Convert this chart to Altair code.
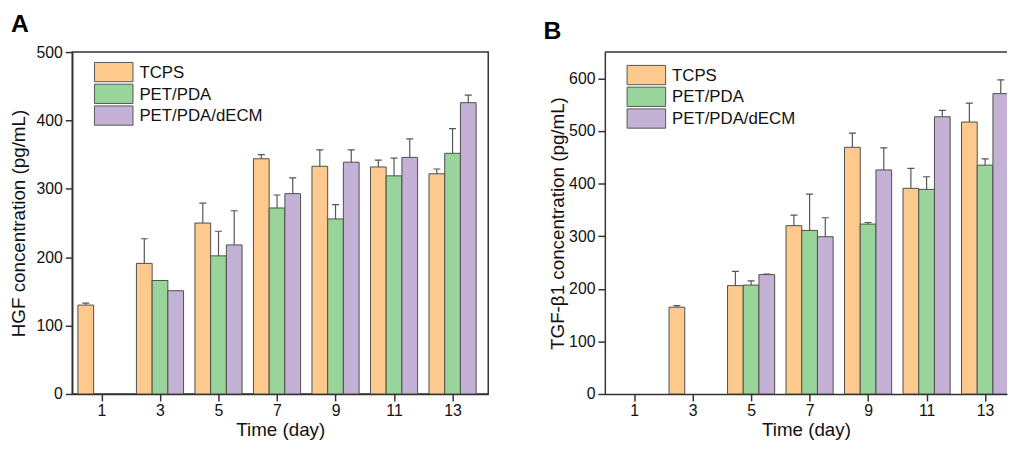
import altair as alt
import pandas as pd

days = [1, 3, 5, 7, 9, 11, 13]
series = ["TCPS", "PET/PDA", "PET/PDA/dECM"]
colors = ["#FDC98D", "#99D59A", "#C3B1D6"]

# Panel A: HGF (pg/mL)
hgf_tcps = [130, 191, 250, 344, 333, 332, 322]
hgf_tcps_err = [3, 36, 29, 6, 24, 10, 7]
hgf_pda = [None, 166, 202, 272, 256, 319, 352]
hgf_pda_err = [None, 0, 36, 19, 21, 26, 36]
hgf_decm = [None, 151, 218, 293, 339, 346, 426]
hgf_decm_err = [None, 0, 50, 23, 18, 27, 11]

# Panel B: TGF-beta1 (pg/mL)
tgf_tcps = [None, 165, 206, 320, 469, 391, 517]
tgf_tcps_err = [None, 3, 27, 20, 27, 38, 36]
tgf_pda = [None, None, 207, 311, 323, 389, 435]
tgf_pda_err = [None, None, 8, 69, 3, 24, 12]
tgf_decm = [None, None, 227, 299, 426, 527, 571]
tgf_decm_err = [None, None, 1, 36, 42, 12, 26]

hgf_ticks = [0, 100, 200, 300, 400, 500]
tgf_ticks = [0, 100, 200, 300, 400, 500, 600]

BW = 0.537   # bar width in days
CAP = 0.12   # half cap width in days
FONT = "Liberation Sans"


def to_long(vals_list, errs_list):
    rows = []
    for k, (vals, errs) in enumerate(zip(vals_list, errs_list)):
        for d, v, e in zip(days, vals, errs):
            if v is None:
                continue
            rows.append({"day": d, "series": series[k], "k": k,
                         "value": v, "err": e if e else 0})
    return pd.DataFrame(rows)


def panel(df, ymax, yticks, ytitle, label, width, xmax, framed, legend_y, ytp):
    base = alt.Chart(df).transform_calculate(
        xc=f"datum.day + (datum.k - 1) * {BW}",
    ).transform_calculate(
        x0=f"datum.xc - {BW / 2}",
        x1=f"datum.xc + {BW / 2}",
        c0=f"datum.xc - {CAP}",
        c1=f"datum.xc + {CAP}",
        top="datum.value + datum.err",
        base0="0",
    )
    xscale = alt.Scale(domain=[0, xmax], nice=False, zero=False)
    yscale = alt.Scale(domain=[0, ymax], nice=False)
    xaxis = alt.Axis(values=days, title="Time (day)", grid=False,
                     labelPadding=2, titlePadding=2, format="d")
    yaxis = alt.Axis(values=yticks, title=ytitle, grid=False,
                     labelPadding=3, titlePadding=ytp)
    bars = base.mark_bar(stroke="#4d4d4d", strokeWidth=1, clip=True).encode(
        x=alt.X("x0:Q", scale=xscale, axis=xaxis),
        x2="x1:Q",
        y=alt.Y("value:Q", scale=yscale, axis=yaxis),
        y2="base0:Q",
        color=alt.Color(
            "series:N",
            scale=alt.Scale(domain=series, range=colors),
            legend=alt.Legend(
                title=None, orient="none", legendX=22, legendY=legend_y,
                symbolType="M-1,-1H1V0H-1Z", symbolSize=1521,
                symbolStrokeColor="#555555", symbolStrokeWidth=1,
                symbolOpacity=1,
                labelFont=FONT, labelFontSize=17, labelColor="#111111",
                labelBaseline="bottom",
                labelOffset=6, rowPadding=-2, padding=0,
            ),
        ),
    )
    errs = base.transform_filter("datum.err > 0.5").mark_rule(
        color="#555555", strokeWidth=1.2, clip=True
    ).encode(x="xc:Q", y="value:Q", y2="top:Q")
    caps = base.transform_filter("datum.err > 0.5").mark_rule(
        color="#555555", strokeWidth=1.2, clip=True
    ).encode(x="c0:Q", x2="c1:Q", y="top:Q")
    layers = [bars, errs, caps]
    if framed:
        view = alt.ViewBackground(stroke="#333333", strokeWidth=1.5)
    else:
        view = alt.ViewBackground(stroke="transparent")
        top_line = alt.Chart(pd.DataFrame({"v": [ymax]})).mark_rule(
            color="#333333", strokeWidth=1.5
        ).encode(y=alt.Y("v:Q", scale=yscale))
        layers.append(top_line)
    return alt.layer(*layers).properties(
        width=width, height=346, view=view,
        title=alt.TitleParams(text=label, anchor="start", frame="group",
                              font=FONT, fontSize=25, fontWeight="bold",
                              color="black", dx=-62, offset=7),
    )


dfA = to_long([hgf_tcps, hgf_pda, hgf_decm], [hgf_tcps_err, hgf_pda_err, hgf_decm_err])
dfB = to_long([tgf_tcps, tgf_pda, tgf_decm], [tgf_tcps_err, tgf_pda_err, tgf_decm_err])

pA = panel(dfA, 500, hgf_ticks, "HGF concentration (pg/mL)", "A", 421, 14.22, True, 10, 8)
pB = panel(dfB, 650, tgf_ticks, "TGF-β1 concentration (pg/mL)", "B", 407, 13.75, False, 13, 1)

chart = alt.hconcat(pA, pB, spacing=54).resolve_legend(color="independent").properties(
    padding={"left": 0, "top": 1, "right": 0, "bottom": 0}
).configure_axis(
    domainColor="#333333", domainWidth=1.5, tickColor="#333333", tickWidth=1.5,
    tickSize=7, labelFont=FONT, labelFontSize=16, labelColor="#111111",
    titleFont=FONT, titleFontSize=19, titleFontWeight="normal", titleColor="#111111",
).configure_view(stroke="transparent")

chart.save("out.html", embed_options={"renderer": "svg", "actions": False})
